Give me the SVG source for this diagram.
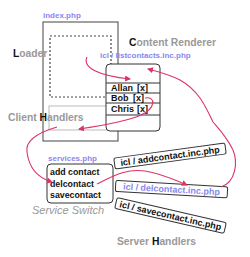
<svg xmlns="http://www.w3.org/2000/svg" width="250" height="257" viewBox="0 0 250 257">
<style>
.lbl{font-family:"Liberation Sans",Arial,sans-serif;font-weight:bold;font-size:10.3px;fill:#999}
.k{fill:#111}
.blue{font-family:"Liberation Sans",Arial,sans-serif;font-weight:bold;font-size:8px;fill:#8888ee}
.item{font-family:"Liberation Sans",Arial,sans-serif;font-weight:bold;font-size:9px;fill:#111}
.svc{font-family:"Liberation Sans",Arial,sans-serif;font-weight:bold;font-size:8.8px;fill:#111}
.tilt{font-family:"Liberation Sans",Arial,sans-serif;font-weight:bold;font-size:9px;fill:#111}
.box{fill:#fff;stroke:#333;stroke-width:1}
.conn{fill:none;stroke:#dd3366;stroke-width:1.1}
</style>
<defs>
<marker id="ah" markerUnits="userSpaceOnUse" markerWidth="6" markerHeight="6" refX="5" refY="3" orient="auto">
<path d="M0,0 L6,3 L0,6 z" fill="#dd3366"/>
</marker>
</defs>
<rect width="250" height="257" fill="#fff"/>

<g id="index">
<text class="blue" x="43" y="18">index.php</text>
<rect x="43" y="22" width="75" height="119" fill="none" stroke="#444" stroke-width="1"/>
</g>
<g id="loader">
<rect x="50" y="36" width="61" height="61" fill="none" stroke="#444" stroke-width="1.2" stroke-dasharray="2,2"/>
<text class="lbl" x="13" y="57"><tspan class="k">L</tspan>oader</text>
</g>
<g id="client-handlers">
<rect x="49" y="106" width="62" height="24" fill="none" stroke="#bbb" stroke-width="1"/>
<text class="lbl" x="8" y="121">Client <tspan class="k">H</tspan>andlers</text>
</g>
<g id="content-renderer">
<text class="lbl" x="129" y="46"><tspan class="k">C</tspan>ontent Renderer</text>
<text class="blue" x="100" y="58">icl / listcontacts.inc.php</text>
<rect class="box" x="106" y="64" width="54" height="67" rx="4"/>
<line x1="106" y1="83" x2="160" y2="83" stroke="#333"/>
<line x1="106" y1="93" x2="160" y2="93" stroke="#333"/>
<line x1="106" y1="103" x2="160" y2="103" stroke="#333"/>
<line x1="106" y1="115" x2="160" y2="115" stroke="#333"/>
<text class="item" x="111" y="91">Allan</text><text class="item" x="137" y="91">[x]</text>
<text class="item" x="111" y="101">Bob</text><text class="item" x="133" y="101">[x]</text>
<text class="item" x="111" y="112">Chris</text><text class="item" x="137" y="112">[x]</text>
</g>
<g id="service-switch">
<text class="blue" x="48" y="161">services.php</text>
<rect class="box" x="47" y="164" width="66" height="39" rx="4"/>
<text class="svc" x="50" y="175">add contact</text>
<text class="svc" x="50" y="187">delcontact</text>
<text class="svc" x="50" y="198">savecontact</text>
<text x="32" y="214" font-family="Liberation Sans, Arial, sans-serif" font-style="italic" font-size="11" fill="#999">Service Switch</text>
</g>
<g id="addcontact" transform="translate(170,156) rotate(-7.8)">
<rect class="box" x="-56" y="-5.5" width="112" height="11" rx="2"/>
<text class="tilt" x="0" y="3.2" text-anchor="middle">icl / addcontact.inc.php</text>
</g>
<g id="delcontact" transform="translate(171.5,189.2) rotate(3.3)">
<rect class="box" x="-56" y="-5.5" width="112" height="11" rx="2"/>
<text class="tilt" x="0" y="3.2" text-anchor="middle" fill="#8888ee" style="fill:#8888ee">icl / delcontact.inc.php</text>
</g>
<g id="savecontact" transform="translate(170.5,215.5) rotate(12.9)">
<rect class="box" x="-56" y="-5.5" width="112" height="11" rx="2"/>
<text class="tilt" x="0" y="3.2" text-anchor="middle">icl / savecontact.inc.php</text>
</g>
<g id="server-handlers">
<text class="lbl" x="117" y="245">Server <tspan class="k">H</tspan>andlers</text>
</g>

<g id="connectors">
<path class="conn" d="M87,57 C82,68 100,76 130,79" marker-end="url(#ah)"/>
<path class="conn" d="M221,187 C236,182 238,162 233,150 C226,136 218,128 213,122 C205,105 198,90 180,80 C170,75 160,72 148,69" marker-end="url(#ah)"/>
<path class="conn" d="M145,98 C156,96 156,108 141,115 C125,122 100,126 79,129" marker-end="url(#ah)"/>
<path class="conn" d="M57,127 C40,132 25,140 27,152 C29,168 38,178 52,182" marker-end="url(#ah)"/>
<path class="conn" d="M97,184 C110,178 125,168 145,171 C160,173 175,180 187,185" marker-end="url(#ah)"/>
</g>
</svg>
